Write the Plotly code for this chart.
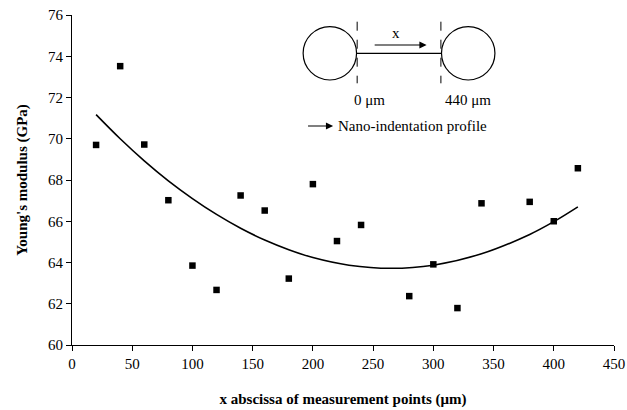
import plotly.graph_objects as go

# Data
x_pos = [20, 40, 60, 80, 100, 120, 140, 160, 180, 200, 220, 240, 280, 300, 320, 340, 380, 400, 420]
modulus = [69.70, 73.52, 69.72, 67.02, 63.85, 62.67, 67.25, 66.52, 63.22, 67.80, 65.04, 65.82,
           62.37, 63.91, 61.79, 66.87, 66.94, 66.00, 68.57]
# second-order trendline
trend_x = [20, 40, 60, 80, 100, 120, 140, 160, 180, 200, 230, 265, 300, 340, 380, 400, 420]
trend_y = [71.17, 70.00, 68.93, 67.96, 67.10, 66.33, 65.66, 65.09, 64.62, 64.24, 63.87, 63.72,
           63.87, 64.42, 65.36, 65.98, 66.70]
x_ticks = [0, 50, 100, 150, 200, 250, 300, 350, 400, 450]
y_ticks = [60, 62, 64, 66, 68, 70, 72, 74, 76]

FONT = "Liberation Serif"

# geometry helpers (pixel -> data) for the inset sketch
L, R, T, B = 72.3, 614.0, 15.0, 345.0
def px2x(p):
    return (p - L) / (R - L) * 450
def py2y(p):
    return 76 - (p - T) / (B - T) * 16

fig = go.Figure()
fig.add_trace(go.Scatter(x=trend_x, y=trend_y, mode="lines", line=dict(color="black", width=1.6, shape="spline"),
                         hoverinfo="skip", showlegend=False))
fig.add_trace(go.Scatter(x=x_pos, y=modulus, mode="markers",
                         marker=dict(symbol="square", size=6.5, color="black"), showlegend=False))

shapes = []
rad = 26.7
for cx in (330.0, 468.3):
    shapes.append(dict(type="circle", xref="x", yref="y",
                       x0=px2x(cx - rad), x1=px2x(cx + rad), y0=py2y(53.3 + rad), y1=py2y(53.3 - rad),
                       line=dict(color="black", width=1.2)))
shapes.append(dict(type="line", xref="x", yref="y", x0=px2x(356.7), x1=px2x(441.7),
                   y0=py2y(53.3), y1=py2y(53.3), line=dict(color="black", width=1.2)))
for dx in (357.3, 441.0):
    shapes.append(dict(type="line", xref="x", yref="y", x0=px2x(dx), x1=px2x(dx),
                       y0=py2y(21.7), y1=py2y(83.3), line=dict(color="black", width=1, dash="dash")))

annotations = [
    dict(x=px2x(426.7), y=py2y(45), ax=px2x(373.3), ay=py2y(45), xref="x", yref="y",
         axref="x", ayref="y", text="", showarrow=True, arrowhead=2, arrowsize=1.2,
         arrowwidth=1.2, arrowcolor="black"),
    dict(x=px2x(333.3), y=py2y(126), ax=px2x(306.7), ay=py2y(126), xref="x", yref="y",
         axref="x", ayref="y", text="", showarrow=True, arrowhead=2, arrowsize=1.2,
         arrowwidth=1.2, arrowcolor="black"),
    dict(x=px2x(396), y=py2y(33), xref="x", yref="y", text="x", showarrow=False,
         font=dict(family=FONT, size=15, color="black")),
    dict(x=px2x(369.5), y=py2y(100), xref="x", yref="y", text="0 μm", showarrow=False,
         font=dict(family=FONT, size=15, color="black")),
    dict(x=px2x(468.5), y=py2y(100), xref="x", yref="y", text="440 μm", showarrow=False,
         font=dict(family=FONT, size=15, color="black")),
    dict(x=px2x(336), y=py2y(126), xref="x", yref="y", text="Nano-indentation profile",
         xanchor="left", showarrow=False, font=dict(family=FONT, size=15, color="black")),
]

fig.update_layout(
    width=627, height=410,
    margin=dict(l=L, r=627 - R, t=T, b=410 - B),
    paper_bgcolor="white", plot_bgcolor="white",
    font=dict(family=FONT, size=15, color="black"),
    shapes=shapes, annotations=annotations,
    xaxis=dict(range=[0, 450], tickvals=x_ticks, showgrid=False, zeroline=False, automargin=False,
               showline=True, linecolor="black", linewidth=1.2, ticks="outside", ticklen=5,
               tickcolor="black", tickfont=dict(family=FONT, size=15),
               title=dict(text="<b>x abscissa of measurement points (μm)</b>",
                          font=dict(family=FONT, size=15), standoff=22)),
    yaxis=dict(range=[60, 76], tickvals=y_ticks, showgrid=False, zeroline=False, automargin=False,
               showline=True, linecolor="black", linewidth=1.2, ticks="outside", ticklen=5,
               tickcolor="black", tickfont=dict(family=FONT, size=15),
               title=dict(text="<b>Young's modulus (GPa)</b>",
                          font=dict(family=FONT, size=15), standoff=16)),
)

fig.write_html("out.html")
